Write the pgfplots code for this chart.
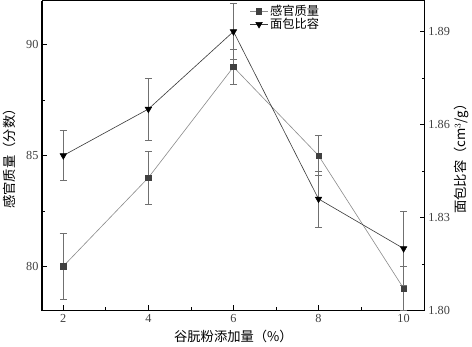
\documentclass[border=0pt]{standalone}
\usepackage{pgfplots}
\pgfplotsset{compat=1.18}
\usepackage{fontspec}
\setmainfont{Liberation Serif}
\newfontfamily\cjk{Noto Sans CJK SC}
\definecolor{sqc}{HTML}{404040}
\definecolor{sql}{HTML}{8C8C8C}
\definecolor{trl}{HTML}{3A3A3A}
\definecolor{errc}{HTML}{707070}
\begin{document}
\begin{tikzpicture}
\pgfplotsset{
  every axis/.append style={
    width=373bp, height=302bp, scale only axis,
    xmin=1.5, xmax=10.5,
    axis line style={line width=1.1pt},
    tick style={line width=0.7pt, black},
    major tick length=5bp, minor tick length=3bp,
    /pgf/number format/assume math mode=true,
    tick label style={font=\fontsize{12}{14}\selectfont, text=black!75},
    label style={font=\cjk\fontsize{13}{15}\selectfont},
  }
}
\begin{axis}[
  at={(0,0)}, anchor=origin,
  axis y line*=left, axis x line*=bottom,
  ymin=78, ymax=92,
  ytick={80,85,90}, minor ytick={82.5,87.5},
  xtick={2,4,6,8,10}, minor xtick={3,5,7,9},
  xlabel={谷朊粉添加量（\%）},
  ylabel={感官质量（分数）},
  ylabel style={yshift=3bp},
  xlabel style={yshift=-1bp},
  clip=false,
]
\addplot[color=sql, line width=0.6pt, mark=square*, mark size=2.6pt,
  mark options={fill=sqc, draw=sqc},
  error bars/.cd, y dir=both, y explicit,
  error bar style={color=errc, line width=0.6pt},
  error mark options={rotate=90, mark size=3.5pt, color=errc, line width=0.6pt}]
coordinates {
 (2,80) +- (0,1.5)
 (4,84) +- (0,1.2)
 (6,89) +- (0,0.8)
 (8,85) +- (0,0.9)
 (10,79) +- (0,1.0)
};
\end{axis}
\begin{axis}[
  at={(0,0)}, anchor=origin,
  axis y line*=right, axis x line*=top,
  xtick=\empty,
  ymin=1.80, ymax=1.90,
  ytick={1.80,1.83,1.86,1.89}, minor ytick={1.815,1.845,1.875},
  yticklabel style={/pgf/number format/fixed, /pgf/number format/fixed zerofill, /pgf/number format/precision=2},
  ylabel={面包比容（cm$^3$/g）},
  ylabel style={yshift=3bp},
  legend style={draw=none, fill=none, at={(0.54,0.995)}, anchor=north west,
    font=\cjk\fontsize{12}{14}\selectfont, row sep=-3bp, inner sep=1bp},
  legend cell align=left,
]
\addlegendimage{color=sql, line width=0.6pt, mark=square*, mark size=2.6pt, mark options={fill=sqc, draw=sqc}}
\addlegendentry{感官质量}
\addplot[color=trl, line width=0.6pt, mark=triangle*, mark size=3.6pt,
  mark options={fill=black, draw=black, rotate=180},
  error bars/.cd, y dir=both, y explicit,
  error bar style={color=errc, line width=0.6pt},
  error mark options={rotate=90, mark size=3.5pt, color=errc, line width=0.6pt}]
coordinates {
 (2,1.850) +- (0,0.008)
 (4,1.865) +- (0,0.010)
 (6,1.890) +- (0,0.009)
 (8,1.836) +- (0,0.009)
 (10,1.820) +- (0,0.012)
};
\addlegendentry{面包比容}
\end{axis}
\end{tikzpicture}
\end{document}
